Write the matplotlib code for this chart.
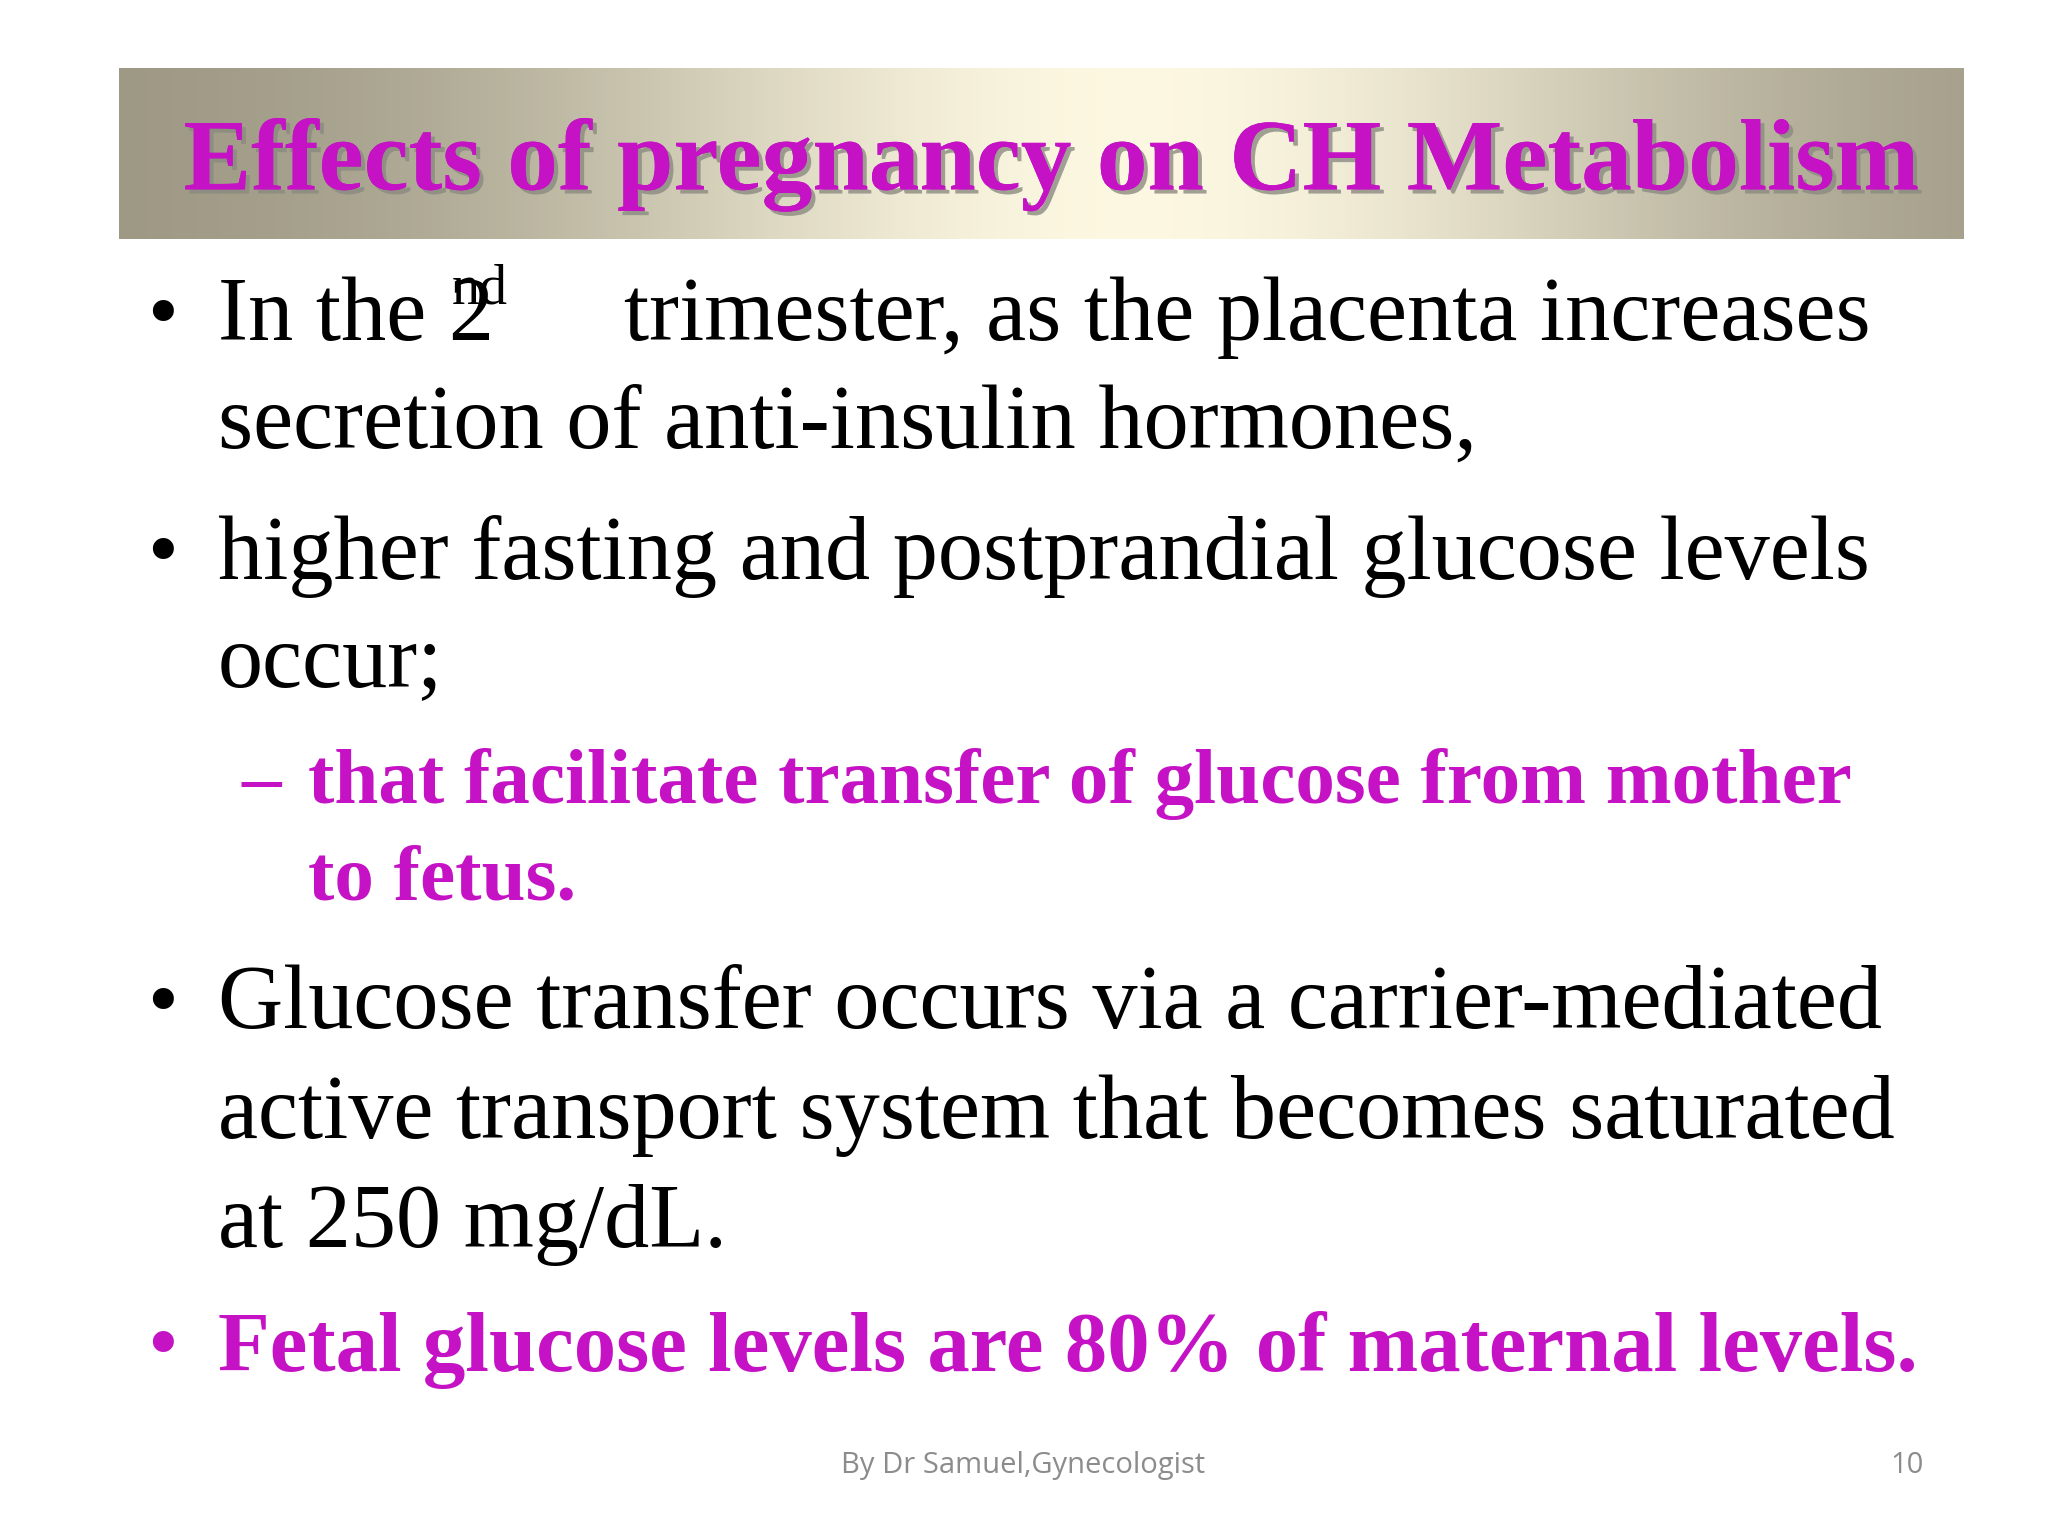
import numpy as np
import matplotlib
matplotlib.use("Agg")
import matplotlib.pyplot as plt
import matplotlib.patheffects as pe

title = "Effects of pregnancy on CH Metabolism"
bullet1 = ["In the 2", "nd", "trimester, as the placenta increases", "secretion of anti-insulin hormones,"]
bullet2 = ["higher fasting and postprandial glucose levels", "occur;"]
sub = ["that facilitate transfer of glucose from mother", "to fetus."]
bullet3 = ["Glucose transfer occurs via a carrier-mediated",
           "active transport system that becomes saturated",
           "at 250 mg/dL."]
bullet4 = "Fetal glucose levels are 80% of maternal levels."
footer = "By Dr Samuel,Gynecologist"
page = "10"

W, H = 1568, 1176
MAG = "#C412C4"
SERIF = "Liberation Serif"
fig = plt.figure(figsize=(20.48, 15.36), dpi=100)
fig.patch.set_facecolor("white")

def X(x): return x / W
def Y(y): return 1 - y / H

# banner
ax = fig.add_axes([X(91), Y(183), X(1503) - X(91), (183 - 52) / H])
ax.axis("off")
t = np.linspace(0, 1, 400)
w = np.exp(-((t - 0.55) / 0.32) ** 2)
edge = np.array([0.60, 0.58, 0.50]); center = np.array([0.99, 0.97, 0.88])
row = edge[None, :] * (1 - w[:, None]) + center[None, :] * w[:, None]
ax.imshow(row[None, :, :], aspect="auto", extent=[0, 1, 0, 1])
fig.text(X(805), Y(145), title, ha="center", va="baseline", fontsize=73,
         fontweight="bold", family=SERIF, color=MAG,
         path_effects=[pe.withSimplePatchShadow(offset=(3, -3), shadow_rgbFace="#8a8a80", alpha=0.8), pe.Normal()])

FS = 65
def bullet(y, color="black"):
    fig.text(X(108), Y(y), "•", fontsize=FS * 0.8, family="DejaVu Sans", color=color,
             va="baseline", ha="left")

# bullet 1
bullet(258)
fig.text(X(167), Y(260), bullet1[0], fontsize=FS, family=SERIF, va="baseline")
fig.text(X(346), Y(232), bullet1[1], fontsize=FS * 0.62, family=SERIF, va="baseline")
fig.text(X(478), Y(260), bullet1[2], fontsize=FS, family=SERIF, va="baseline")
fig.text(X(167), Y(343), bullet1[3], fontsize=FS, family=SERIF, va="baseline")
# bullet 2
bullet(440)
fig.text(X(167), Y(443), bullet2[0], fontsize=FS, family=SERIF, va="baseline")
fig.text(X(167), Y(525), bullet2[1], fontsize=FS, family=SERIF, va="baseline")
# sub
SFS = 57
fig.text(X(185), Y(615), "–", fontsize=SFS, family=SERIF, fontweight="bold", color=MAG, va="baseline")
fig.text(X(236), Y(615), sub[0], fontsize=SFS, family=SERIF, fontweight="bold", color=MAG, va="baseline")
fig.text(X(236), Y(689), sub[1], fontsize=SFS, family=SERIF, fontweight="bold", color=MAG, va="baseline")
# bullet 3
bullet(785)
for i, s in enumerate(bullet3):
    fig.text(X(167), Y(787 + 84 * i), s, fontsize=FS, family=SERIF, va="baseline")
# bullet 4
bullet(1047, color=MAG)
fig.text(X(167), Y(1050), bullet4, fontsize=61, family=SERIF, fontweight="bold",
         color=MAG, va="baseline")
# footer
fig.text(X(783), Y(1122), footer, fontsize=21, family="Open Sans", color="#8c8c8c", ha="center", va="center")
fig.text(X(1460), Y(1122), page, fontsize=21, family="Open Sans", color="#8c8c8c", ha="center", va="center")

fig.savefig("out.png", dpi=100, facecolor="white")
